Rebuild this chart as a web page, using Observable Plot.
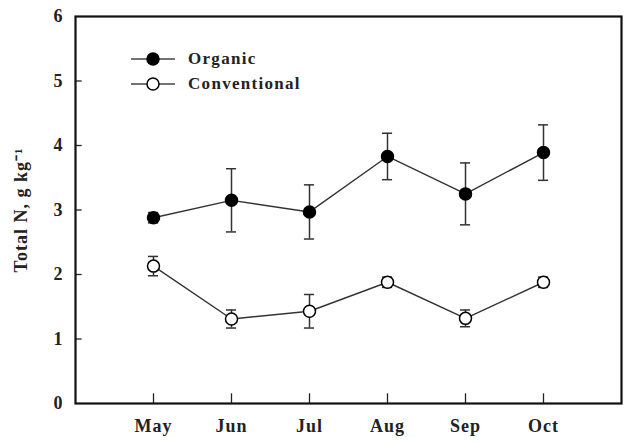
<!DOCTYPE html>
<html><head><meta charset="utf-8">
<script src="https://cdn.jsdelivr.net/npm/d3@7"></script>
<script src="https://cdn.jsdelivr.net/npm/@observablehq/plot@0.6"></script>
<style>
body{margin:0;background:#fff;}
#wrap{position:relative;width:629px;height:442px;}
#legend{position:absolute;left:130px;top:46px;font-family:"Liberation Serif",serif;font-weight:bold;font-size:17px;letter-spacing:1.3px;color:#222;}
#legend .row{display:flex;align-items:center;height:25px;}
#legend svg{margin-right:12px;}
</style></head><body>
<div id="wrap"><div id="legend"></div></div>
<script>
const months = ["May","Jun","Jul","Aug","Sep","Oct"];
const monthPos = [1,2,3,4,5,6];
const organic = [2.88,3.15,2.97,3.83,3.25,3.89];
const organicErr = [0.08,0.49,0.42,0.36,0.48,0.43];
const conventional = [2.13,1.31,1.43,1.88,1.32,1.88];
const conventionalErr = [0.15,0.14,0.26,0.08,0.13,0.08];
const yTicks = [0,1,2,3,4,5,6];
const seriesNames = ["Organic","Conventional"];
const seriesFill = ["#000","#fff"];

const rows = [];
months.forEach((m,i)=>{
  rows.push({series:"Organic", x:monthPos[i], y:organic[i], lo:organic[i]-organicErr[i], hi:organic[i]+organicErr[i]});
  rows.push({series:"Conventional", x:monthPos[i], y:conventional[i], lo:conventional[i]-conventionalErr[i], hi:conventional[i]+conventionalErr[i]});
});
const capHalf = 0.065;

const chart = Plot.plot({
  width:629, height:442,
  marginLeft:75, marginTop:16, marginRight:8, marginBottom:39,
  style:{fontFamily:"Liberation Serif, serif", fontWeight:"bold", fontSize:"18px", letterSpacing:"1px", color:"#222", background:"#fff"},
  x:{domain:[0,7]},
  y:{domain:[0,6]},
  marks:[
    Plot.axisX({ticks:monthPos, tickFormat:d=>months[d-1], tickSize:0, tickPadding:16, label:null}),
    Plot.axisY({ticks:yTicks, tickFormat:d=>String(d), tickSize:0, tickPadding:12, label:"Total N, g kg⁻¹", labelAnchor:"center", labelOffset:61, labelArrow:"none"}),
    Plot.ruleY(yTicks.slice(1,-1), {x1:0, x2:0.085, stroke:"#222", strokeWidth:1.3}),
    Plot.ruleX(monthPos, {y1:0, y2:0.15, stroke:"#222", strokeWidth:1.3}),
    Plot.ruleX(rows, {x:"x", y1:"lo", y2:"hi", stroke:"#333", strokeWidth:1.5}),
    Plot.ruleY(rows, {y:"hi", x1:d=>d.x-capHalf, x2:d=>d.x+capHalf, stroke:"#333", strokeWidth:1.5}),
    Plot.ruleY(rows, {y:"lo", x1:d=>d.x-capHalf, x2:d=>d.x+capHalf, stroke:"#333", strokeWidth:1.5}),
    Plot.line(rows, {x:"x", y:"y", z:"series", stroke:"#333", strokeWidth:1.4}),
    Plot.dot(rows, {x:"x", y:"y", r:6, fill:d=>d.series==="Organic"?"#000":"#fff", stroke:"#000", strokeWidth:1.5}),
    Plot.frame({stroke:"#111", strokeWidth:2.2})
  ]
});
document.getElementById("wrap").prepend(chart);

const leg = document.getElementById("legend");
seriesNames.forEach((n,i)=>{
  const row = document.createElement("div");
  row.className="row";
  row.innerHTML = `<svg width="46" height="16"><line x1="1" x2="45" y1="8" y2="8" stroke="#444" stroke-width="1.4"/><circle cx="23" cy="8" r="6" fill="${seriesFill[i]}" stroke="#000" stroke-width="1.5"/></svg><span>${n}</span>`;
  leg.appendChild(row);
});
</script>
</body></html>
